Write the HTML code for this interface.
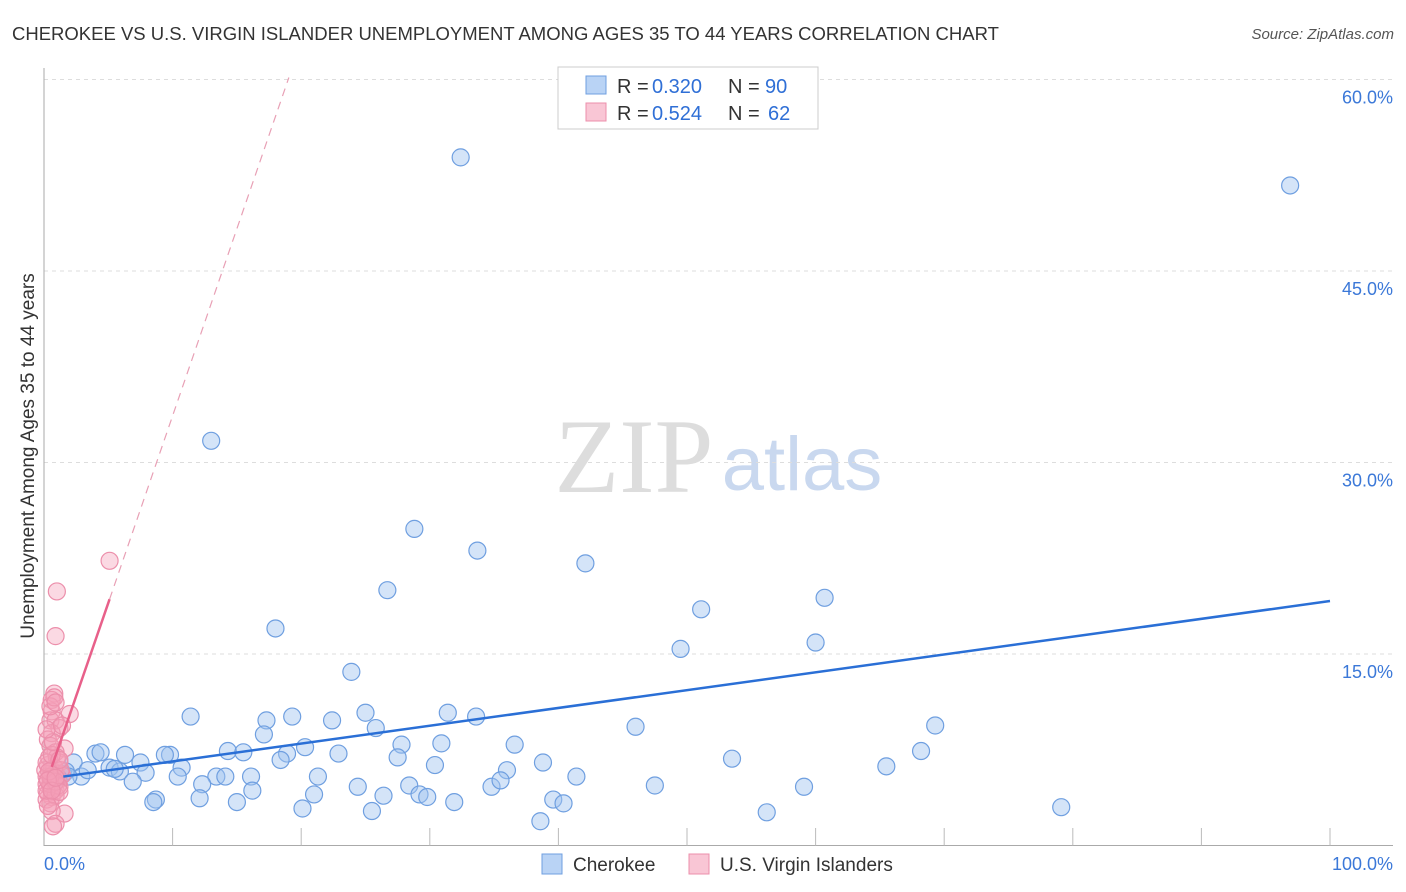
<!DOCTYPE html>
<html><head><meta charset="utf-8"><style>
body{margin:0;background:#fff;font-family:"Liberation Sans",sans-serif;}
svg{display:block}
</style></head><body>
<svg id="chart" width="1406" height="892">
<text x="12" y="40" font-size="18.5" fill="#333">CHEROKEE VS U.S. VIRGIN ISLANDER UNEMPLOYMENT AMONG AGES 35 TO 44 YEARS CORRELATION CHART</text>
<text x="1394" y="39" font-size="15" fill="#555" font-style="italic" text-anchor="end">Source: ZipAtlas.com</text>
<text x="0" y="0" transform="translate(34,456) rotate(-90)" font-size="19" fill="#333" text-anchor="middle">Unemployment Among Ages 35 to 44 years</text>
<g><text x="634" y="492" font-size="106" font-family="Liberation Serif,serif" fill="#ddd" text-anchor="middle">ZIP</text><text x="802" y="490" font-size="76" fill="#c9d8ef" text-anchor="middle">atlas</text></g>
<g id="grid"></g><g id="axes"></g><g id="pts"></g><g id="trends"></g>
<g>
<rect x="558" y="67" width="260" height="62" fill="#fff" stroke="#ccc"/>
<rect x="586" y="76" width="20" height="18" fill="#b9d3f5" stroke="#6f9fe0"/>
<rect x="586" y="103" width="20" height="18" fill="#f9c6d5" stroke="#ec8fab"/>
<text x="617" y="93" font-size="20" fill="#333">R =</text><text x="652" y="93" font-size="20" fill="#2f6fd6">0.320</text>
<text x="728" y="93" font-size="20" fill="#333">N =</text><text x="765" y="93" font-size="20" fill="#2f6fd6">90</text>
<text x="617" y="120" font-size="20" fill="#333">R =</text><text x="652" y="120" font-size="20" fill="#2f6fd6">0.524</text>
<text x="728" y="120" font-size="20" fill="#333">N =</text><text x="768" y="120" font-size="20" fill="#2f6fd6">62</text>
</g>
<g>
<rect x="542" y="854" width="20" height="20" fill="#b9d3f5" stroke="#6f9fe0"/>
<text x="573" y="871" font-size="19" fill="#333">Cherokee</text>
<rect x="689" y="854" width="20" height="20" fill="#f9c6d5" stroke="#ec8fab"/>
<text x="720" y="871" font-size="19" fill="#333">U.S. Virgin Islanders</text>
</g>
<text x="44" y="870" font-size="18" fill="#3b78d8">0.0%</text>
<text x="1393" y="870" font-size="18" fill="#3b78d8" text-anchor="end">100.0%</text>
</svg>
<script>
const cherX=[32.4,96.9,13.0,28.8,33.7,42.1,26.7,51.1,60.7,18.0,60.0,49.5,23.9,11.4,25.0,31.4,33.6,17.3,19.3,22.4,25.8,17.1,46.0,69.3,27.8,30.9,36.6,20.3,14.3,15.5,9.8,4.0,4.4,6.3,9.4,7.5,18.9,22.9,68.2,53.5,27.5,18.4,2.3,5.1,5.9,7.9,10.7,10.4,36.0,30.4,38.8,65.5,41.4,21.3,13.4,14.1,16.1,2.9,1.5,6.9,28.4,24.4,12.3,47.5,59.1,34.8,35.5,16.2,21.0,26.4,29.2,29.8,8.7,8.5,12.1,15.0,31.9,39.6,40.4,79.1,20.1,25.5,56.2,38.6,1.7,1.9,1.1,5.5,3.4];
const cherY=[53.9,51.7,31.7,24.8,23.1,22.1,20.0,18.5,19.4,17.0,15.9,15.4,13.6,10.1,10.4,10.4,10.1,9.8,10.1,9.8,9.2,8.7,9.3,9.4,7.9,8.0,7.9,7.7,7.4,7.3,7.1,7.2,7.3,7.1,7.1,6.5,7.2,7.2,7.4,6.8,6.9,6.7,6.5,6.1,5.8,5.7,6.1,5.4,5.9,6.3,6.5,6.2,5.4,5.4,5.4,5.4,5.4,5.4,5.6,5.0,4.7,4.6,4.8,4.7,4.6,4.6,5.1,4.3,4.0,3.9,4.0,3.8,3.6,3.4,3.7,3.4,3.4,3.6,3.3,3.0,2.9,2.7,2.6,1.9,5.8,5.4,5.3,6.0,5.9];
const usviX=[5.1,1.0,0.9,0.8,0.6,2.0,0.6,0.5,0.9,1.2,0.6,0.3,1.6,0.5,0.9,1.2,0.3,0.6,0.9,0.2,0.5,0.7,1.1,1.4,0.2,0.5,0.9,1.2,0.3,0.6,0.2,0.5,0.9,1.6,0.6,0.3,0.9,0.7,0.5,0.8,0.4,1.0,1.3,0.1,1.1,0.2,0.5,0.9,0.2,0.6,1.2,0.4,0.7,0.2,1.4,0.5,0.8,0.9,1.2,0.3,0.6,0.9];
const usviY=[22.3,19.9,16.4,11.9,11.4,10.3,10.5,9.8,9.8,9.2,8.8,8.3,7.6,7.8,7.3,6.5,6.3,5.9,5.7,5.4,5.3,5.1,5.1,5.5,4.8,4.6,4.3,4.6,4.1,3.8,3.6,3.3,3.9,2.5,2.7,3.1,1.7,1.5,4.8,6.1,6.9,6.9,5.9,5.9,4.7,4.3,5.4,5.0,6.5,7.1,4.2,5.8,8.1,9.1,9.4,10.9,11.6,11.2,6.7,5.1,4.3,5.3];
const yTicks=[15,30,45,60];
const yTickLabels=["15.0%","30.0%","45.0%","60.0%"];
const cherTrend=[5.19,0.1396];
const usviTrend=[4.4,2.92];
const NS="http://www.w3.org/2000/svg";
const X0=44,X1=1330,YB=845.5,PXPER=191.5/15;
const sx=v=>X0+(X1-X0)*v/100, sy=v=>YB-v*PXPER;
function mk(tag,attrs,parent){const e=document.createElementNS(NS,tag);for(const k in attrs)e.setAttribute(k,attrs[k]);parent.appendChild(e);return e;}
const grid=document.getElementById('grid'),axes=document.getElementById('axes'),pts=document.getElementById('pts'),tr=document.getElementById('trends');
yTicks.forEach((t,i)=>{
 const l=mk('line',{x1:X0,x2:1393,y1:sy(t),y2:sy(t),stroke:'#ddd','stroke-dasharray':'4,4'},grid);
 
 
 const tx=mk('text',{x:1393,y:sy(t)+24,'font-size':18,fill:'#3b78d8','text-anchor':'end'},grid);
 tx.textContent=yTickLabels[i];
 
 
});
const ax=mk('path',{d:`M${X0},68V${YB}H1393`,stroke:'#aaa',fill:'none'},axes);


for(let i=1;i<=10;i++){const t=mk('line',{x1:sx(i*10),x2:sx(i*10),y1:YB,y2:828,stroke:'#bbb'},axes);
 
 }
function dots(xs,ys,fill,stroke,name){xs.forEach((x,i)=>{const c=mk('circle',{cx:sx(x),cy:sy(ys[i]),r:8.5,fill:fill,stroke:stroke,'stroke-width':1.2},pts);
 
 });}
dots(cherX,cherY,'rgba(160,196,240,0.45)','#6f9fe0','cherokee-point');
dots(usviX,usviY,'rgba(245,160,185,0.4)','#ec8fab','virgin-islanders-point');
const bl=mk('line',{x1:sx(1.5),y1:sy(cherTrend[0]+cherTrend[1]*1.5),x2:sx(100),y2:sy(cherTrend[0]+cherTrend[1]*100),stroke:'#2a6fd6','stroke-width':2.5},tr);


const xEnd=(60-usviTrend[0])/usviTrend[1];
const pl=mk('line',{x1:sx(0.6),y1:sy(usviTrend[0]+usviTrend[1]*0.6),x2:sx(5.1),y2:sy(usviTrend[0]+usviTrend[1]*5.1),stroke:'#e8608a','stroke-width':2.5},tr);


const pd=mk('line',{x1:sx(5.1),y1:sy(usviTrend[0]+usviTrend[1]*5.1),x2:sx(xEnd),y2:sy(60)-2,stroke:'#e8a0b5','stroke-width':1.2,'stroke-dasharray':'8,6'},tr);


</script>
</body></html>
